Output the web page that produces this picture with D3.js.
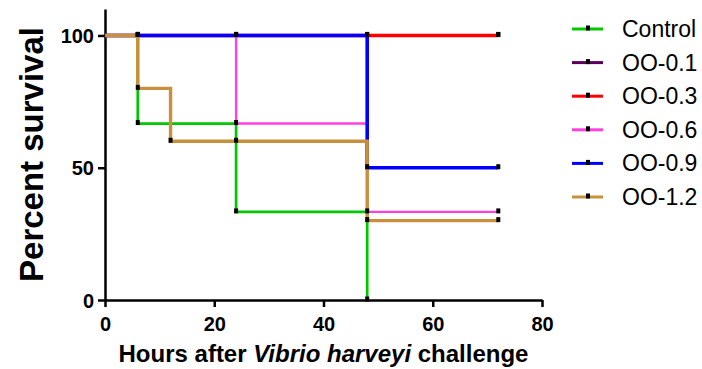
<!DOCTYPE html>
<html>
<head>
<meta charset="utf-8">
<script src="https://cdn.jsdelivr.net/npm/d3@7"></script>
<style>
  body { margin: 0; background: #fff; }
  text { font-family: Arial, "Liberation Sans", sans-serif; }
</style>
</head>
<body>
<div id="chart"></div>
<script>
// survival data
const groups = ['Control', 'OO-0.1', 'OO-0.3', 'OO-0.6', 'OO-0.9', 'OO-1.2'];
const colors = ['#00c800', '#5c005c', '#ff0000', '#ff40e0', '#0000ff', '#c8903c'];
const strokeWidths = [2.7, 3, 3.4, 2.4, 3.6, 3.4];
const hours = [
    [0, 6, 24, 48],
    [0, 6, 24, 48, 72],
    [0, 6, 24, 48, 72],
    [0, 6, 24, 48, 72],
    [0, 6, 24, 48, 72],
    [0, 6, 12, 24, 48, 72]
];
const survival = [
    [100, 66.7, 33.3, 0],
    [100, 100, 100, 100, 100],
    [100, 100, 100, 100, 100],
    [100, 100, 66.7, 33.3, 33.3],
    [100, 100, 100, 50, 50],
    [100, 80, 60, 60, 30, 30]
];
const xTicks = [0, 20, 40, 60, 80];
const yTicks = [0, 50, 100];

const width = 702, height = 369;
const svg = d3.select('#chart').append('svg')
    .attr('width', width)
    .attr('height', height);

const x = d3.scaleLinear().domain([0, 80]).range([105, 542]);
const y = d3.scaleLinear().domain([0, 110]).range([300, 9]);

const series = groups.map((g, i) => ({
    name: g,
    color: colors[i],
    sw: strokeWidths[i],
    points: hours[i].map((h, j) => [h, survival[i][j]])
}));

// axes
const xAxis = svg.append('g')
    .attr('transform', `translate(0,${y(0)})`)
    .call(d3.axisBottom(x).tickValues(xTicks).tickSize(7).tickPadding(6).tickSizeOuter(0));
const yAxis = svg.append('g')
    .attr('transform', `translate(${x(0)},0)`)
    .call(d3.axisLeft(y).tickValues(yTicks).tickSize(7).tickPadding(4).tickSizeOuter(0));

[xAxis, yAxis].forEach(a => {
    a.select('.domain').attr('stroke', '#000').attr('stroke-width', 2.5);
    a.selectAll('.tick line').attr('stroke', '#000').attr('stroke-width', 2.5);
    a.selectAll('.tick text')
        .attr('fill', '#000')
        .style('font-size', '20px')
        .style('font-weight', 'bold');
});
xAxis.selectAll('.tick text').attr('dy', '0.9em');
yAxis.selectAll('.tick text').attr('dy', '0.36em');

// step lines
const line = d3.line()
    .x(d => x(d[0]))
    .y(d => y(d[1]))
    .curve(d3.curveStepAfter);

svg.append('g').selectAll('path')
    .data(series)
    .join('path')
    .attr('d', d => line(d.points))
    .attr('fill', 'none')
    .attr('stroke', d => d.color)
    .attr('stroke-width', d => d.sw);

// tick marks at each time point
svg.append('g').selectAll('rect')
    .data(series.flatMap(s => s.points.filter(p => p[0] > 0)))
    .join('rect')
    .attr('x', d => x(d[0]) - 2)
    .attr('y', d => y(d[1]) - 3.5)
    .attr('width', 4)
    .attr('height', 5)
    .attr('fill', '#000');

// axis titles
svg.append('text')
    .attr('x', (x(0) + x(80)) / 2)
    .attr('y', 362)
    .attr('text-anchor', 'middle')
    .style('font-size', '24px')
    .style('font-weight', 'bold')
    .call(t => {
        t.append('tspan').text('Hours after ');
        t.append('tspan').style('font-style', 'italic').text('Vibrio harveyi');
        t.append('tspan').text(' challenge');
    });

svg.append('text')
    .attr('transform', `translate(43,${(y(0) + y(110)) / 2}) rotate(-90)`)
    .attr('text-anchor', 'middle')
    .style('font-size', '33px')
    .style('font-weight', 'bold')
    .text('Percent survival');

// legend
const legend = svg.append('g').selectAll('g')
    .data(series)
    .join('g')
    .attr('transform', (d, i) => `translate(572,${29 + i * 33.6})`);

legend.append('line')
    .attr('x1', 0).attr('x2', 31)
    .attr('stroke', d => d.color)
    .attr('stroke-width', 3);
legend.append('rect')
    .attr('x', 14).attr('y', -3.5)
    .attr('width', 4).attr('height', 5)
    .attr('fill', '#000');
legend.append('text')
    .attr('x', 50)
    .attr('y', 8)
    .style('font-size', '23px')
    .text(d => d.name);
</script>
</body>
</html>
